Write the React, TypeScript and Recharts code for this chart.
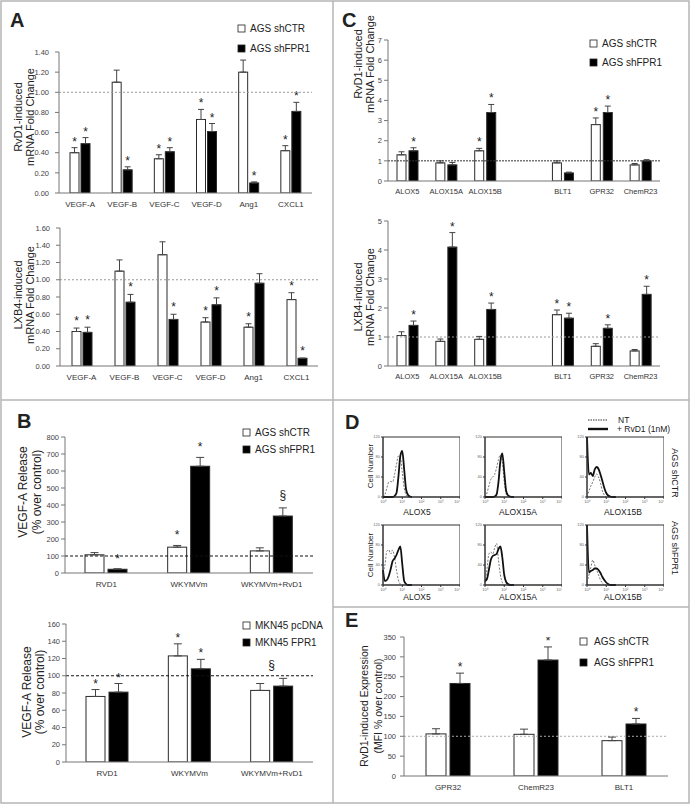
import React from "react";
import {
  BarChart,
  Bar,
  XAxis,
  YAxis,
  ReferenceLine,
  ReferenceArea,
  ErrorBar,
  LineChart,
  Line,
} from "recharts";

const FONT = "'Liberation Sans', Arial, Helvetica, sans-serif";
const INK = "#222";

// legends
const shNames = ["AGS shCTR", "AGS shFPR1"];
const mknNames = ["MKN45 pcDNA", "MKN45 FPR1"];

// panel A - angiogenic factors
const angioGenes = ["VEGF-A", "VEGF-B", "VEGF-C", "VEGF-D", "Ang1", "CXCL1"];
const rvd1AngCtr = [0.4, 1.1, 0.34, 0.73, 1.2, 0.42];
const rvd1AngCtrErr = [0.05, 0.12, 0.04, 0.1, 0.12, 0.05];
const rvd1AngFpr = [0.49, 0.23, 0.41, 0.61, 0.1, 0.81];
const rvd1AngFprErr = [0.06, 0.03, 0.04, 0.08, 0.01, 0.09];
const rvd1AngCtrMark = ["*", "", "*", "*", "", "*"];
const rvd1AngFprMark = ["*", "*", "*", "*", "*", "*"];

const lxb4AngCtr = [0.4, 1.1, 1.29, 0.51, 0.45, 0.77];
const lxb4AngCtrErr = [0.04, 0.13, 0.15, 0.05, 0.04, 0.08];
const lxb4AngFpr = [0.39, 0.74, 0.54, 0.71, 0.96, 0.09];
const lxb4AngFprErr = [0.06, 0.09, 0.06, 0.08, 0.11, 0];
const lxb4AngCtrMark = ["*", "", "", "*", "*", "*"];
const lxb4AngFprMark = ["*", "*", "*", "*", "", "*"];

// panel C - enzymes and receptors (blank slot between groups)
const lipidGenes = ["ALOX5", "ALOX15A", "ALOX15B", "", "BLT1", "GPR32", "ChemR23"];
const rvd1LipCtr = [1.3, 0.9, 1.5, null, 0.9, 2.8, 0.8];
const rvd1LipCtrErr = [0.15, 0.1, 0.12, null, 0.1, 0.33, 0.07];
const rvd1LipFpr = [1.5, 0.8, 3.4, null, 0.4, 3.4, 1.0];
const rvd1LipFprErr = [0.15, 0.12, 0.4, null, 0.04, 0.32, 0.06];
const rvd1LipCtrMark = ["", "", "*", "", "", "*", ""];
const rvd1LipFprMark = ["*", "", "*", "", "", "*", ""];

const lxb4LipCtr = [1.05, 0.85, 0.92, null, 1.77, 0.68, 0.52];
const lxb4LipCtrErr = [0.13, 0.08, 0.1, null, 0.16, 0.09, 0.05];
const lxb4LipFpr = [1.4, 4.1, 1.95, null, 1.65, 1.3, 2.47];
const lxb4LipFprErr = [0.15, 0.5, 0.22, null, 0.17, 0.12, 0.28];
const lxb4LipCtrMark = ["", "", "", "", "*", "", ""];
const lxb4LipFprMark = ["*", "*", "*", "", "*", "*", "*"];

// panel B - VEGF-A release
const treatments = ["RVD1", "WKYMVm", "WKYMVm+RvD1"];
const agsRelCtr = [107, 152, 130];
const agsRelCtrErr = [13, 10, 18];
const agsRelFpr = [22, 628, 335];
const agsRelFprErr = [3, 52, 48];
const agsRelCtrMark = ["", "*", ""];
const agsRelFprMark = ["*", "*", "§"];

const mknRelCtr = [76, 123, 83];
const mknRelCtrErr = [8, 14, 8];
const mknRelFpr = [81, 108, 88];
const mknRelFprErr = [10, 11, 9];
const mknRelCtrMark = ["*", "*", ""];
const mknRelFprMark = ["*", "*", ""];
const mknRelGroupMark = ["", "", "§"];

// panel E - receptor MFI
const receptors = ["GPR32", "ChemR23", "BLT1"];
const mfiCtr = [106, 105, 89];
const mfiCtrErr = [13, 13, 9];
const mfiFpr = [233, 292, 131];
const mfiFprErr = [26, 33, 14];
const mfiCtrMark = ["", "", ""];
const mfiFprMark = ["*", "*", "*"];

// panel D - flow histograms, log10 fluorescence bins
const histX = [0, 0.1, 0.2, 0.3, 0.4, 0.5, 0.6, 0.7, 0.8, 0.9, 1.0, 1.1, 1.2, 1.3, 1.4, 1.5];
const ctrAlox5NT = [0, 5, 18, 30, 31, 30, 45, 65, 82, 80, 50, 18, 4, 0, 0, 0];
const ctrAlox5Rv = [0, 0, 0, 0, 0, 0, 2, 8, 40, 82, 92, 55, 15, 4, 1, 0];
const ctrAlox15aNT = [0, 8, 22, 35, 40, 45, 58, 75, 84, 70, 30, 6, 0, 0, 0, 0];
const ctrAlox15aRv = [0, 0, 0, 0, 0, 1, 5, 30, 72, 87, 50, 12, 3, 1, 0, 0];
const ctrAlox15bNT = [0, 12, 22, 30, 40, 46, 40, 28, 12, 4, 0, 0, 0, 0, 0, 0];
const ctrAlox15bRv = [120, 45, 48, 42, 55, 60, 56, 45, 32, 18, 8, 3, 1, 0, 0, 0];
const fprAlox5NT = [25, 40, 68, 70, 62, 70, 55, 30, 10, 2, 0, 0, 0, 0, 0, 0];
const fprAlox5Rv = [30, 8, 10, 18, 32, 48, 53, 60, 70, 77, 42, 8, 2, 0, 0, 0];
const fprAlox15aNT = [5, 30, 62, 66, 62, 74, 83, 50, 20, 5, 0, 0, 0, 0, 0, 0];
const fprAlox15aRv = [8, 12, 30, 50, 58, 60, 62, 72, 77, 55, 20, 6, 2, 0, 0, 0];
const fprAlox15bNT = [5, 20, 35, 50, 40, 30, 20, 10, 4, 0, 0, 0, 0, 0, 0, 0];
const fprAlox15bRv = [120, 25, 28, 30, 33, 33, 30, 24, 16, 10, 5, 2, 0, 0, 0, 0];
const histLabels = ["ALOX5", "ALOX15A", "ALOX15B"];
const decadeTicks = [0, 1, 2, 3, 4];
const countTicks = [0, 20, 40, 60, 80, 100, 120];
const SUP = ["⁰", "¹", "²", "³", "⁴"];

const buildRows = (
  cats: string[],
  ctr: (number | null)[],
  ctrErr: (number | null)[],
  fpr: (number | null)[],
  fprErr: (number | null)[],
  ctrMark: string[],
  fprMark: string[],
  groupMark?: string[]
) =>
  cats.map((cat, i) => ({
    cat,
    ctr: ctr[i],
    ctrErr: ctrErr[i] == null ? null : [0, ctrErr[i]],
    fpr: fpr[i],
    fprErr: fprErr[i] == null ? null : [0, fprErr[i]],
    ctrMark: ctrMark[i],
    fprMark: fprMark[i],
    groupMark: groupMark ? groupMark[i] : "",
  }));

const markText = (x: number, errTop: number, gap: number, mark: string) => {
  const base = mark === "§" ? errTop - gap + 4 : errTop - gap + 7;
  return (
    <text x={x} y={base} textAnchor="middle" fontSize={12} fill={INK} fontFamily={FONT}>
      {mark}
    </text>
  );
};

const barShape = (key: "ctr" | "fpr", fill: string, gap: number, barGap: number) => (p: any) => {
  const { x, y, width, height, payload } = p;
  const v = payload[key];
  if (v == null) return <g />;
  const unit = v > 0 ? height / v : 0;
  const err = payload[key + "Err"] ? payload[key + "Err"][1] : 0;
  const top = y - err * unit;
  const mark = payload[key + "Mark"];
  let group = null;
  if (key === "ctr" && payload.groupMark) {
    const fTop = (payload.fpr + payload.fprErr[1]) * unit;
    const cTop = (v + err) * unit;
    const yTop = y + height - Math.max(fTop, cTop);
    group = markText(x + width + barGap / 2, yTop, gap + 4, payload.groupMark);
  }
  return (
    <g>
      <rect x={x} y={y} width={width} height={height} fill={fill} stroke="#2a2a2a" strokeWidth={1} />
      {mark ? markText(x + width / 2, top, gap, mark) : null}
      {group}
    </g>
  );
};

type GroupProps = {
  axisX: number;
  plotTop: number;
  plotW: number;
  plotH: number;
  rows: any[];
  max: number;
  ticks: number[];
  decimals: number;
  barSize: number;
  barGap: number;
  capW: number;
  refColor: string;
  refDash: string;
  tickMargin: number;
  markGap: number;
  catFont: number;
};

const GroupBars = (g: GroupProps) => {
  const tickStyle = { fontSize: 7.5, fill: "#444", fontFamily: FONT };
  return (
    <div style={{ position: "absolute", left: g.axisX - 40, top: g.plotTop - 6 }}>
      <BarChart
        width={40 + g.plotW}
        height={6 + g.plotH + 20}
        data={g.rows}
        margin={{ top: 6, right: 0, bottom: 0, left: 0 }}
        barGap={g.barGap}
      >
        <XAxis
          dataKey="cat"
          height={20}
          interval={0}
          tickLine={false}
          axisLine={{ stroke: "#777" }}
          tick={{ fontSize: g.catFont, fill: "#333", fontFamily: FONT }}
        />
        <YAxis
          width={40}
          domain={[0, g.max]}
          ticks={g.ticks}
          allowDataOverflow
          tickSize={4}
          tickMargin={g.tickMargin}
          tickFormatter={(v: number) => v.toFixed(g.decimals)}
          axisLine={{ stroke: "#777" }}
          tickLine={{ stroke: "#777" }}
          tick={tickStyle}
        />
        <ReferenceLine y={g.ticks.includes(100) && g.max > 10 ? 100 : 1} stroke={g.refColor} strokeDasharray={g.refDash} />
        <Bar
          dataKey="ctr"
          barSize={g.barSize}
          isAnimationActive={false}
          shape={barShape("ctr", "#fff", g.markGap, g.barGap)}
        >
          <ErrorBar dataKey="ctrErr" width={g.capW} stroke="#444" strokeWidth={1} direction="y" isAnimationActive={false} />
        </Bar>
        <Bar
          dataKey="fpr"
          barSize={g.barSize}
          isAnimationActive={false}
          shape={barShape("fpr", "#000", g.markGap, g.barGap)}
        >
          <ErrorBar dataKey="fprErr" width={g.capW} stroke="#444" strokeWidth={1} direction="y" isAnimationActive={false} />
        </Bar>
      </BarChart>
    </div>
  );
};

const Histo = ({ left, top, nt, rv }: { left: number; top: number; nt: number[]; rv: number[] }) => {
  const data = histX.map((x, i) => ({ x, nt: nt[i], rv: rv[i] }));
  const tiny = { fontSize: 4, fill: "#666", fontFamily: FONT };
  return (
    <div style={{ position: "absolute", left: left - 18, top: top - 3 }}>
      <LineChart width={95} height={73} data={data} margin={{ top: 3, right: 0, bottom: 0, left: 0 }}>
        <XAxis
          type="number"
          dataKey="x"
          domain={[0, 4]}
          ticks={decadeTicks}
          height={10}
          tickSize={2}
          tickMargin={1}
          tick={tiny}
          tickFormatter={(v: number) => "10" + SUP[v]}
          axisLine={{ stroke: "#333" }}
          tickLine={{ stroke: "#333" }}
        />
        <YAxis
          type="number"
          domain={[0, 120]}
          ticks={countTicks}
          width={18}
          tickSize={2}
          tickMargin={1}
          tick={tiny}
          axisLine={{ stroke: "#333" }}
          tickLine={{ stroke: "#333" }}
        />
        <ReferenceArea x1={0} x2={4} y1={0} y2={120} fill="none" stroke="#333" strokeWidth={1} ifOverflow="visible" />
        <Line dataKey="nt" type="monotone" stroke="#777" strokeWidth={1} strokeDasharray="2 1.5" dot={false} isAnimationActive={false} />
        <Line dataKey="rv" type="monotone" stroke="#111" strokeWidth={1.8} dot={false} isAnimationActive={false} />
      </LineChart>
    </div>
  );
};

const LegendBox = ({ x, y, gap, names, textOff = 12 }: { x: number; y: number; gap: number; names: string[]; textOff?: number }) => (
  <g>
    {names.map((n, i) => (
      <g key={n}>
        <rect x={x} y={y + i * gap} width={7} height={7} fill={i === 0 ? "#fff" : "#000"} stroke="#222" strokeWidth={0.8} />
        <text x={x + textOff} y={y + i * gap + 7} fontSize={10} fill={INK}>
          {n}
        </text>
      </g>
    ))}
  </g>
);

const VTitle = ({ x, y, lines, size, gap }: { x: number; y: number; lines: string[]; size: number; gap: number }) => (
  <text transform={`translate(${x},${y}) rotate(-90)`} textAnchor="middle" fontSize={size} fill={INK}>
    {lines.map((l, i) => (
      <tspan key={l} x={0} dy={i === 0 ? 0 : gap}>
        {l}
      </tspan>
    ))}
  </text>
);

export default function App() {
  const histCols = [383, 485, 587];
  const ctrHist = [
    [ctrAlox5NT, ctrAlox5Rv],
    [ctrAlox15aNT, ctrAlox15aRv],
    [ctrAlox15bNT, ctrAlox15bRv],
  ];
  const fprHist = [
    [fprAlox5NT, fprAlox5Rv],
    [fprAlox15aNT, fprAlox15aRv],
    [fprAlox15bNT, fprAlox15bRv],
  ];
  const histCenters = [417, 518, 623];

  return (
    <div
      style={{
        position: "absolute",
        left: 0,
        top: 0,
        width: 691,
        height: 804,
        background: "#fff",
        overflow: "hidden",
        fontFamily: FONT,
      }}
    >
      <GroupBars
        axisX={59} plotTop={52} plotW={253} plotH={141}
        rows={buildRows(angioGenes, rvd1AngCtr, rvd1AngCtrErr, rvd1AngFpr, rvd1AngFprErr, rvd1AngCtrMark, rvd1AngFprMark)}
        max={1.4} ticks={[0, 0.2, 0.4, 0.6, 0.8, 1.0, 1.2, 1.4]} decimals={2}
        barSize={9} barGap={2} capW={3} refColor="#999" refDash="2 2" tickMargin={6} markGap={9} catFont={8}
      />
      <GroupBars
        axisX={60} plotTop={228} plotW={258} plotH={138}
        rows={buildRows(angioGenes, lxb4AngCtr, lxb4AngCtrErr, lxb4AngFpr, lxb4AngFprErr, lxb4AngCtrMark, lxb4AngFprMark)}
        max={1.6} ticks={[0, 0.2, 0.4, 0.6, 0.8, 1.0, 1.2, 1.4, 1.6]} decimals={2}
        barSize={9} barGap={2} capW={3} refColor="#999" refDash="2 2" tickMargin={6} markGap={10} catFont={8}
      />
      <GroupBars
        axisX={388} plotTop={40} plotW={272} plotH={141}
        rows={buildRows(lipidGenes, rvd1LipCtr, rvd1LipCtrErr, rvd1LipFpr, rvd1LipFprErr, rvd1LipCtrMark, rvd1LipFprMark)}
        max={7} ticks={[0, 1, 2, 3, 4, 5, 6, 7]} decimals={0}
        barSize={9} barGap={3} capW={3} refColor="#333" refDash="2 1" tickMargin={2} markGap={9} catFont={7.5}
      />
      <GroupBars
        axisX={388} plotTop={221} plotW={272} plotH={145}
        rows={buildRows(lipidGenes, lxb4LipCtr, lxb4LipCtrErr, lxb4LipFpr, lxb4LipFprErr, lxb4LipCtrMark, lxb4LipFprMark)}
        max={5} ticks={[0, 1, 2, 3, 4, 5]} decimals={0}
        barSize={9} barGap={3} capW={3} refColor="#999" refDash="2 2" tickMargin={2} markGap={9} catFont={7.5}
      />
      <GroupBars
        axisX={65} plotTop={437} plotW={248} plotH={136}
        rows={buildRows(treatments, agsRelCtr, agsRelCtrErr, agsRelFpr, agsRelFprErr, agsRelCtrMark, agsRelFprMark)}
        max={800} ticks={[0, 100, 200, 300, 400, 500, 600, 700, 800]} decimals={0}
        barSize={19} barGap={4} capW={4} refColor="#111" refDash="3 2" tickMargin={2} markGap={13} catFont={8}
      />
      <GroupBars
        axisX={66} plotTop={624} plotW={247} plotH={138}
        rows={buildRows(treatments, mknRelCtr, mknRelCtrErr, mknRelFpr, mknRelFprErr, mknRelCtrMark, mknRelFprMark, mknRelGroupMark)}
        max={160} ticks={[0, 20, 40, 60, 80, 100, 120, 140, 160]} decimals={0}
        barSize={19} barGap={4} capW={4} refColor="#111" refDash="3 2" tickMargin={2} markGap={9} catFont={8}
      />
      <GroupBars
        axisX={404} plotTop={637} plotW={264} plotH={139}
        rows={buildRows(receptors, mfiCtr, mfiCtrErr, mfiFpr, mfiFprErr, mfiCtrMark, mfiFprMark)}
        max={350} ticks={[0, 50, 100, 150, 200, 250, 300, 350]} decimals={0}
        barSize={20} barGap={4} capW={4} refColor="#aaa" refDash="2 2" tickMargin={4} markGap={9} catFont={8}
      />

      {histCols.map((x, i) => (
        <Histo key={"c" + i} left={x} top={437} nt={ctrHist[i][0]} rv={ctrHist[i][1]} />
      ))}
      {histCols.map((x, i) => (
        <Histo key={"f" + i} left={x} top={525} nt={fprHist[i][0]} rv={fprHist[i][1]} />
      ))}

      <svg
        width={691}
        height={804}
        style={{ position: "absolute", left: 0, top: 0, pointerEvents: "none", fontFamily: FONT }}
      >
        <rect x={1} y={1} width={688} height={802} fill="none" stroke="#b5b5b5" strokeWidth={1.5} />
        <line x1={333} y1={1} x2={333} y2={803} stroke="#b5b5b5" strokeWidth={1.5} />
        <line x1={1} y1={400} x2={689} y2={400} stroke="#b5b5b5" strokeWidth={1.5} />
        <line x1={333} y1={607} x2={689} y2={607} stroke="#b5b5b5" strokeWidth={1.5} />

        <text x={10} y={27} fontSize={20} fontWeight="bold" fill={INK}>A</text>
        <text x={17} y={428} fontSize={20} fontWeight="bold" fill={INK}>B</text>
        <text x={342} y={27} fontSize={20} fontWeight="bold" fill={INK}>C</text>
        <text x={345} y={429} fontSize={20} fontWeight="bold" fill={INK}>D</text>
        <text x={345} y={627} fontSize={20} fontWeight="bold" fill={INK}>E</text>

        <LegendBox x={238} y={25} gap={20} names={shNames} />
        <LegendBox x={590} y={40} gap={19} names={shNames} />
        <LegendBox x={243} y={429} gap={17} names={shNames} />
        <LegendBox x={243} y={622} gap={17} names={mknNames} />
        <LegendBox x={580} y={638} gap={21} names={shNames} textOff={14} />

        <VTitle x={22} y={117} lines={["RvD1-induced", "mRNA Fold Change"]} size={11} gap={12} />
        <VTitle x={22} y={295} lines={["LXB4-induced", "mRNA Fold Change"]} size={11} gap={12} />
        <VTitle x={362} y={64} lines={["RvD1-induced", "mRNA Fold Change"]} size={11} gap={12} />
        <VTitle x={362} y={297} lines={["LXB4-induced", "mRNA Fold Change"]} size={11} gap={12} />
        <VTitle x={27} y={492} lines={["VEGF-A Release", "(% over control)"]} size={12} gap={14} />
        <VTitle x={31} y={692} lines={["VEGF-A Release", "(% over control)"]} size={12} gap={13} />
        <VTitle x={368} y={706} lines={["RvD1-induced Expression", "(MFI % over control)"]} size={10.5} gap={14} />

        <line x1={588} y1={420} x2={608} y2={420} stroke="#333" strokeWidth={1.2} strokeDasharray="1.5 1" />
        <text x={618} y={423} fontSize={8.5} fill={INK}>NT</text>
        <line x1={588} y1={429} x2={608} y2={429} stroke="#111" strokeWidth={2.4} />
        <text x={617} y={432} fontSize={8.5} fill={INK}>+ RvD1 (1nM)</text>

        <VTitle x={373} y={466} lines={["Cell Number"]} size={8} gap={0} />
        <VTitle x={373} y={555} lines={["Cell Number"]} size={8} gap={0} />
        <text transform="translate(672,473) rotate(90)" textAnchor="middle" fontSize={9} fill={INK}>AGS shCTR</text>
        <text transform="translate(672,548) rotate(90)" textAnchor="middle" fontSize={9} fill={INK}>AGS shFPR1</text>
        {histLabels.map((l, i) => (
          <text key={"t" + l} x={histCenters[i]} y={515} textAnchor="middle" fontSize={8.5} fill={INK}>{l}</text>
        ))}
        {histLabels.map((l, i) => (
          <text key={"b" + l} x={histCenters[i]} y={600} textAnchor="middle" fontSize={8.5} fill={INK}>{l}</text>
        ))}
      </svg>
    </div>
  );
}
